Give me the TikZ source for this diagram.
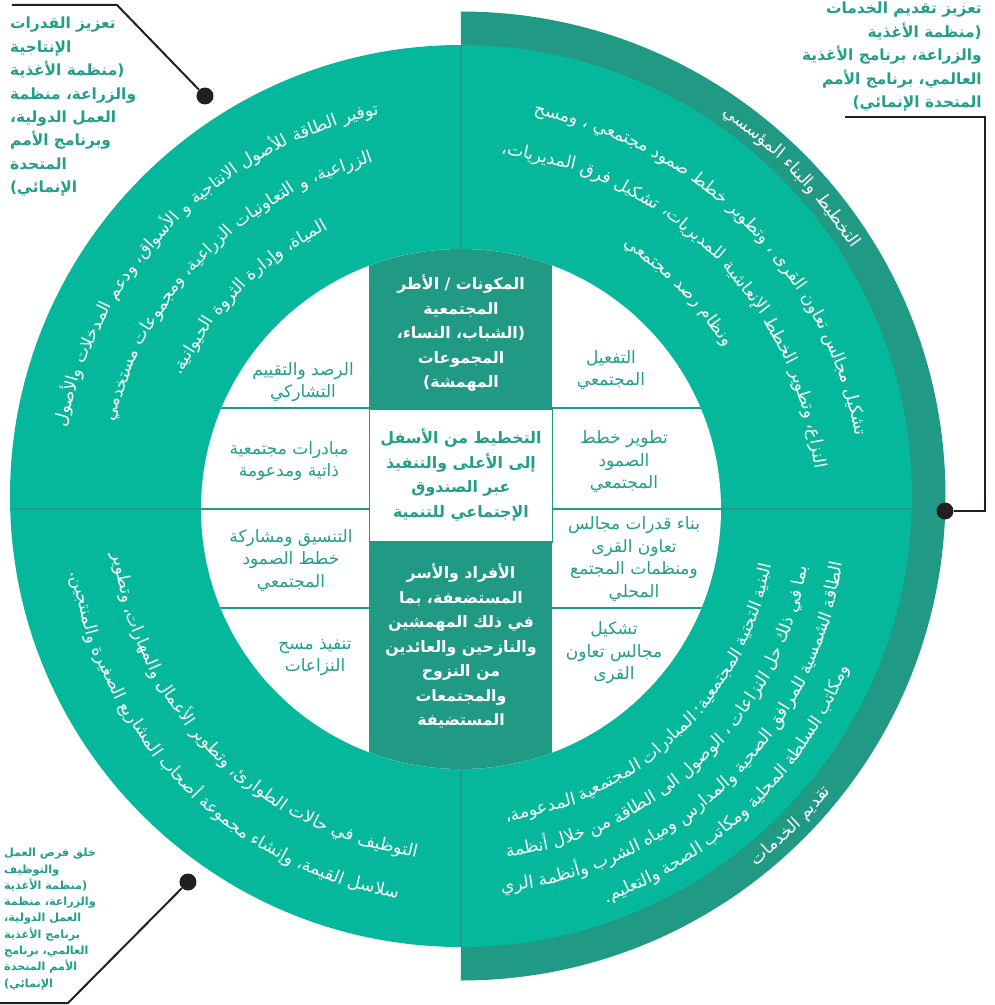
\documentclass[tikz,border=0pt]{standalone}
\usepackage{fontspec}
\newfontfamily\arabicfont[Script=Arabic]{DejaVu Sans}
\TeXXeTstate=1
\definecolor{lightteal}{RGB}{5,184,155}
\definecolor{darkteal}{RGB}{32,154,133}
\definecolor{inktext}{RGB}{34,158,137}
\definecolor{ink}{RGB}{35,31,32}

\newcommand\ar[1]{\beginR#1\endR}
\font\arcfnt="DejaVu Sans:script=arab" at 17.3pt
\newlength\arcgap \setlength\arcgap{5.5pt}
\newlength\arctot
% words of one line set along an arc round the centre
\newcommand\arctext[4]{%
  \global\arctot=0pt
  \foreach \w in {#4}{%
    \setbox0=\hbox{\arcfnt\ar{\w}}%
    \global\advance\arctot by \wd0
    \global\advance\arctot by \arcgap
  }%
  \global\advance\arctot by -\arcgap
  \pgfmathsetmacro\arcstart{#1-(#3)*\the\arctot/(#2)*90/pi}%
  \xdef\arccur{\arcstart}%
  \foreach \w in {#4}{%
    \setbox0=\hbox{\arcfnt\ar{\w}}%
    \pgfmathsetmacro\arcw{\the\wd0/(#2)*180/pi}%
    \pgfmathsetmacro\arcmid{\arccur+(#3)*\arcw/2}%
    \node[arcword, rotate={\arcmid-(#3)*90}] at (\arcmid:#2) {\ar{\w}};%
    \pgfmathsetmacro\arcnext{\arccur+(#3)*(\arcw+\the\arcgap/(#2)*180/pi)}%
    \xdef\arccur{\arcnext}%
  }%
}

\tikzset{
  arcword/.style={text=white, inner sep=0pt, anchor=base, font=\arcfnt},
  divline/.style={darkteal, line width=2pt},
  cell/.style={text=inktext, inner sep=0pt, align=center,
    font=\arabicfont\fontsize{17}{22.5}\selectfont},
  boxtext/.style={text=white, inner sep=0pt, align=center,
    font=\arabicfont\bfseries\fontsize{15.8}{24.5}\selectfont},
  midtext/.style={boxtext, text=inktext},
  sidelabel/.style={text=inktext, inner sep=0pt,
    font=\arabicfont\bfseries\fontsize{15.4}{23.4}\selectfont},
  smalllabel/.style={sidelabel, font=\arabicfont\bfseries\fontsize{11.2}{16.3}\selectfont},
  dot/.style={circle, fill=ink, minimum size=17pt, inner sep=0pt},
  leader/.style={ink, line width=2pt}
}

\begin{document}
\begin{tikzpicture}[x=1pt, y=1pt]
\useasboundingbox (-461,-509) rectangle (534,496);

% outer rings
\fill[darkteal] (0,484.5) arc (90:-90:484.5) -- cycle;
\fill[lightteal] (0,0) circle (451);
\draw[divline] (0,451) -- (0,-451);
\draw[divline] (-450.8,-13) -- (450.8,-13);

% inner disc with its cells
\fill[white] (0,-13) circle (260);
\begin{scope}
  \clip (0,-13) circle (260);
  \fill[darkteal] (-91.5,87) rectangle (91.5,300);
  \fill[darkteal] (-91.5,-46) rectangle (91.5,-300);
  \foreach \y in {88.5,-12.5,-112} {
    \draw[divline] (-300,\y) -- (-91.5,\y);
    \draw[divline] (91.5,\y) -- (300,\y);
  }
\end{scope}
\draw[darkteal, line width=1.5pt] (-91.5,87) rectangle (91.5,-46);

% cell texts
\node[boxtext] (groups) at (0,163) {\ar{المكونات / الأطر}\\\ar{المجتمعية}\\\ar{(الشباب، النساء،}\\\ar{المجموعات}\\\ar{المهمشة)}};
\node[midtext] (core) at (0,21) {\ar{التخطيط من الأسفل}\\\ar{إلى الأعلى والتنفيذ}\\\ar{عبر الصندوق}\\\ar{الإجتماعي للتنمية}};
\node[boxtext] (people) at (0,-150) {\ar{الأفراد والأسر}\\\ar{المستضعفة، بما}\\\ar{في ذلك المهمشين}\\\ar{والنازحين والعائدين}\\\ar{من النزوح}\\\ar{والمجتمعات}\\\ar{المستضيفة}};

\node[cell] (monitor) at (-158,114) {\ar{الرصد والتقييم}\\\ar{التشاركي}};
\node[cell] (initiatives) at (-172,35) {\ar{مبادرات مجتمعية}\\\ar{ذاتية ومدعومة}};
\node[cell] (coordinate) at (-170,-64.5) {\ar{التنسيق ومشاركة}\\\ar{خطط الصمود}\\\ar{المجتمعي}};
\node[cell] (survey) at (-146,-161.5) {\ar{تنفيذ مسح}\\\ar{النزاعات}};
\node[cell] (activate) at (150,126) {\ar{التفعيل}\\\ar{المجتمعي}};
\node[cell] (plans) at (163,34) {\ar{تطوير خطط}\\\ar{الصمود}\\\ar{المجتمعي}};
\node[cell] (capacity) at (173,-63) {\ar{بناء قدرات مجالس}\\\ar{تعاون القرى}\\\ar{ومنظمات المجتمع}\\\ar{المحلي}};
\node[cell] (councils) at (153,-157) {\ar{تشكيل}\\\ar{مجالس تعاون}\\\ar{القرى}};

% text round the ring
\begin{scope}[shift={(0,-13)}]
\arctext{135}{403}{1}{توفير,الطاقة,للأصول,الانتاجية,و,الأسواق،,ودعم,المدخلات,والأصول}
\arctext{135}{357}{1}{الزراعية،,و,التعاونيات,الزراعية،,ومجموعات,مستخدمي}
\arctext{135}{309}{1}{المياة،,وإدارة,الثروة,الحيوانية.}
\arctext{45}{401}{1}{تشكيل,مجالس,تعاون,القرى,،,وتطوير,خطط,صمود,مجتمعي,،,ومسح}
\arctext{45}{356}{1}{النزاع،,وتطوير,الخطط,الإنعاشية,للمديريات،,تشكيل,فرق,المديريات،}
\arctext{45}{309}{1}{ونظام,رصد,مجتمعي}
\arctext{225}{350}{-1}{التوظيف,في,حالات,الطوارئ،,وتطوير,الأعمال,والمهارات،,وتطوير}
\arctext{225}{394}{-1}{سلاسل,القيمة،,وإنشاء,مجموعة,أصحاب,المشاريع,الصغيرة,والمنتجين.}
\arctext{-46}{315}{-1}{البنية,التحتية,المجتمعية:,المبادرات,المجتمعية,المدعومة،}
\arctext{-46}{351}{-1}{بما,في,ذلك,حل,النزاعات,،,الوصول,الى,الطاقة,من,خلال,أنظمة}
\arctext{-46}{385}{-1}{الطاقة,الشمسية,للمرافق,الصحية,والمدارس,ومياه,الشرب,وأنظمة,الري}
\arctext{-46}{419}{-1}{ومكاتب,السلطة,المحلية,ومكاتب,الصحة,والتعليم.}
\end{scope}
\arctext{44}{462}{1}{التخطيط,والبناء,المؤسسي}
\arctext{-45}{473}{-1}{تقديم,الخدمات}

% labels outside and their leaders
\node[sidelabel, align=left, anchor=north west] (prodlabel) at (-451,479) {\ar{تعزيز القدرات}\\\ar{الإنتاجية}\\\ar{(منظمة الأغذية}\\\ar{والزراعة، منظمة}\\\ar{العمل الدولية،}\\\ar{وبرنامج الأمم}\\\ar{المتحدة}\\\ar{الإنمائي)}};
\node[sidelabel, align=right, anchor=north east] (servlabel) at (521,494) {\ar{تعزيز تقديم الخدمات}\\\ar{(منظمة الأغذية}\\\ar{والزراعة، برنامج الأغذية}\\\ar{العالمي، برنامج الأمم}\\\ar{المتحدة الإنمائي)}};
\node[smalllabel, align=left, anchor=north west] (joblabel) at (-457,-352) {\ar{خلق فرص العمل}\\\ar{والتوظيف}\\\ar{(منظمة الأغذية}\\\ar{والزراعة، منظمة}\\\ar{العمل الدولية،}\\\ar{برنامج الأغذية}\\\ar{العالمي، برنامج}\\\ar{الأمم المتحدة}\\\ar{الإنمائي)}};

\coordinate (prodend) at (-449,491);
\coordinate (prodbend) at (-344,491);
\node[dot] (proddot) at (-256,400) {};
\draw[leader] (prodend) -- (prodbend) -- (proddot);

\node[dot] (servdot) at (484,-15) {};
\coordinate (servcorner) at (524,-15);
\coordinate (servtop) at (524,379);
\coordinate (servend) at (384,379);
\draw[leader] (servdot) -- (servcorner) -- (servtop) -- (servend);

\node[dot] (jobdot) at (-273,-386) {};
\coordinate (jobbend) at (-393,-507);
\coordinate (jobend) at (-461,-507);
\draw[leader] (jobdot) -- (jobbend) -- (jobend);

\end{tikzpicture}
\end{document}
